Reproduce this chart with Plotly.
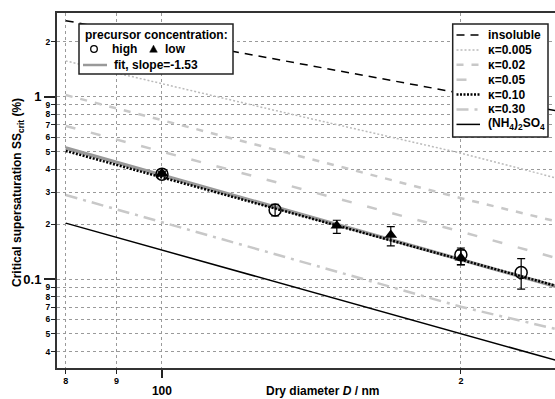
import plotly.graph_objects as go

# ---------------- data ----------------
insoluble_D = [80, 250]
insoluble_SS = [2.61, 0.835]
k0005_D = [80, 131.5, 200, 250]
k0005_SS = [1.57, 0.828, 0.49, 0.357]
k002_D = [80, 200, 250]
k002_SS = [1.02, 0.2775, 0.2065]
k005_D = [80, 200, 250]
k005_SS = [0.691, 0.182, 0.130]
k010_D = [80, 250]
k010_SS = [0.504, 0.0914]
k030_D = [80, 200, 250]
k030_SS = [0.289, 0.0705, 0.053]
amsulf_D = [80, 200, 250]
amsulf_SS = [0.2025, 0.0505, 0.0357]
fit_D = [80, 250]
fit_SS = [0.523, 0.0907]

high_D = [100, 130, 200, 230]
high_SS = [0.376, 0.239, 0.136, 0.1085]
high_err_plus = [0.010, 0.018, 0.012, 0.021]
high_err_minus = [0.010, 0.017, 0.016, 0.0205]

low_D = [100, 150, 170, 200]
low_SS = [0.380, 0.196, 0.1746, 0.131]
low_err_plus = [0.010, 0.014, 0.019, 0.013]
low_err_minus = [0.010, 0.018, 0.0226, 0.0115]

x_minor_vals = [80, 90, 200]
x_minor_text = ["8", "9", "2"]
x_major_vals = [100]
x_major_text = ["100"]
y_minor_vals = [0.04, 0.05, 0.06, 0.07, 0.08, 0.09, 0.2, 0.3, 0.4, 0.5,
                0.6, 0.7, 0.8, 0.9, 2]
y_minor_text = ["4", "5", "6", "7", "8", "9", "2", "3", "4", "5",
                "6", "7", "8", "9", "2"]
y_major_vals = [0.1, 1]
y_major_text = ["0.1", "1"]

legend_labels = ["insoluble", "κ=0.005", "κ=0.02", "κ=0.05", "κ=0.10",
                 "κ=0.30", "(NH<sub>4</sub>)<sub>2</sub>SO<sub>4</sub>"]

# ---------------- geometry ----------------
W, H = 555, 399
ML, MR, MT, MB = 57, 0, 13, 31
PW, PH = W - ML - MR, H - MT - MB
XR = [1.8943, 2.3958]
YR = [-1.4877, 0.4586]
FONT = "Liberation Sans, Arial, sans-serif"
LG = "#c8c8c8"


def px(x):
    return (x - ML) / PW


def py(y):
    return (H - MB - y) / PH


styles = [
    (insoluble_D, insoluble_SS, dict(color="black", width=1.5, dash="8px,6px")),
    (k0005_D, k0005_SS, dict(color="#bbbbbb", width=1.5, dash="2px,2px")),
    (k002_D, k002_SS, dict(color=LG, width=2.5, dash="7px,8px")),
    (k005_D, k005_SS, dict(color=LG, width=2.5, dash="10px,16px")),
    (k010_D, k010_SS, dict(color="black", width=2.5, dash="2px,1.5px")),
    (k030_D, k030_SS, dict(color=LG, width=2.5, dash="12px,6px,3px,6px")),
    (amsulf_D, amsulf_SS, dict(color="black", width=1.5)),
]

fig = go.Figure()
fig.add_trace(go.Scatter(x=fit_D, y=fit_SS, mode="lines",
                         line=dict(color="#999999", width=3.5), showlegend=False))
for (d, s, ln), name in zip(styles, legend_labels):
    on_overlay = name.startswith("(NH")
    fig.add_trace(go.Scatter(x=d, y=s, mode="lines", line=ln, name=name,
                             showlegend=False,
                             xaxis="x2" if on_overlay else "x",
                             yaxis="y2" if on_overlay else "y"))

fig.add_trace(go.Scatter(
    x=high_D, y=high_SS, mode="markers", showlegend=False,
    marker=dict(symbol="circle-open", size=12, color="black", line=dict(width=1.5)),
    error_y=dict(type="data", symmetric=False, array=high_err_plus,
                 arrayminus=high_err_minus, color="black", thickness=1.2, width=4)))
fig.add_trace(go.Scatter(
    x=low_D, y=low_SS, mode="markers", showlegend=False,
    marker=dict(symbol="triangle-up", size=11, color="black"),
    error_y=dict(type="data", symmetric=False, array=low_err_plus,
                 arrayminus=low_err_minus, color="black", thickness=1.2, width=4)))

shapes = []
annos = []
LF = dict(family=FONT, size=12, color="black", weight="bold")
# left legend box
shapes.append(dict(type="rect", xref="paper", yref="paper", x0=px(79), x1=px(233),
                   y0=py(74), y1=py(24), fillcolor="white",
                   line=dict(color="#222", width=1.5), layer="above"))
annos.append(dict(x=px(156.5), y=py(35), xref="paper", yref="paper",
                  text="precursor concentration:", showarrow=False,
                  xanchor="center", yanchor="middle", font=LF))
cx, cy, r = 94, 49, 3.3
shapes.append(dict(type="circle", xref="paper", yref="paper", x0=px(cx - r), x1=px(cx + r),
                   y0=py(cy + r), y1=py(cy - r), line=dict(color="black", width=1.3),
                   layer="above"))
annos.append(dict(x=px(110), y=py(49.5), xref="paper", yref="paper", text="high",
                  showarrow=False, xanchor="left", yanchor="middle", font=LF))
tx, ty = 153.5, 49
shapes.append(dict(type="path", xref="paper", yref="paper",
                   path=f"M {px(tx-3.8)} {py(ty+3.2)} L {px(tx+3.8)} {py(ty+3.2)} L {px(tx)} {py(ty-3.8)} Z",
                   fillcolor="black", line=dict(color="black", width=0.5), layer="above"))
annos.append(dict(x=px(163), y=py(49.5), xref="paper", yref="paper", text="low",
                  showarrow=False, xanchor="left", yanchor="middle", font=LF))
shapes.append(dict(type="line", xref="paper", yref="paper", x0=px(83), x1=px(107),
                   y0=py(65), y1=py(65), line=dict(color="#999999", width=2.5), layer="above"))
annos.append(dict(x=px(112), y=py(65), xref="paper", yref="paper", text="fit, slope=-1.53",
                  showarrow=False, xanchor="left", yanchor="middle", font=LF))

# right legend box
shapes.append(dict(type="rect", xref="paper", yref="paper", x0=px(452.7), x1=px(548),
                   y0=py(137), y1=py(24), fillcolor="white",
                   line=dict(color="#222", width=1.5), layer="above"))
for i, ((d, s, ln), name) in enumerate(zip(styles, legend_labels)):
    yy = 35 + i * 14.9
    shapes.append(dict(type="line", xref="paper", yref="paper", x0=px(456.5), x1=px(480),
                       y0=py(yy), y1=py(yy), line=ln, layer="above"))
    annos.append(dict(x=px(485.5), y=py(yy), xref="paper", yref="paper", text=name,
                      showarrow=False, xanchor="left", yanchor="middle", font=LF))

# axis titles
annos.append(dict(x=px(322.5), y=py(391), xref="paper", yref="paper",
                  text="Dry diameter <i>D</i> / nm", showarrow=False,
                  xanchor="center", yanchor="middle", font=LF))
annos.append(dict(x=px(18), y=py(193), xref="paper", yref="paper",
                  text="Critical supersaturation SS<sub>crit</sub> (%)", showarrow=False,
                  textangle=-90, xanchor="center", yanchor="middle", font=LF))

GRIDC = "#9a9a9a"

fig.update_layout(
    width=W, height=H,
    margin=dict(l=ML, r=MR, t=MT, b=MB, pad=0, autoexpand=False),
    paper_bgcolor="white", plot_bgcolor="white",
    showlegend=False,
    shapes=shapes, annotations=annos,
    xaxis=dict(type="log", range=XR, tickmode="array", tickvals=x_major_vals,
               ticktext=x_major_text, ticks="outside", ticklen=8, tickwidth=1.5,
               tickcolor="#222", showline=True, linecolor="#333", linewidth=2,
               mirror=True, zeroline=False, ticklabelstandoff=3,
               showgrid=True, gridcolor=GRIDC, griddash="dot", gridwidth=1,
               minor=dict(tickmode="array", tickvals=x_minor_vals, ticks="outside",
                          ticklen=4, tickwidth=1, tickcolor="#222", showgrid=True,
                          gridcolor=GRIDC, griddash="dot", gridwidth=1),
               tickfont=dict(family=FONT, size=12, color="black", weight="bold")),
    xaxis2=dict(type="log", range=XR, overlaying="x", anchor="y", side="bottom",
                tickmode="array", tickvals=x_minor_vals, ticktext=x_minor_text,
                ticks="outside", ticklen=4, tickwidth=1, tickcolor="#222",
                showline=False, showgrid=False, zeroline=False,
                tickfont=dict(family=FONT, size=9, color="black", weight="bold")),
    yaxis=dict(type="log", range=YR, tickmode="array", tickvals=y_major_vals,
               ticktext=y_major_text, ticks="outside", ticklen=11, tickwidth=1.5,
               tickcolor="#222", showline=True, linecolor="#333", linewidth=2,
               mirror=False, zeroline=False,
               showgrid=True, gridcolor=GRIDC, griddash="dot", gridwidth=1,
               minor=dict(tickmode="array", tickvals=y_minor_vals, ticks="outside",
                          ticklen=4, tickwidth=1, tickcolor="#222", showgrid=True,
                          gridcolor=GRIDC, griddash="dot", gridwidth=1),
               tickfont=dict(family=FONT, size=13, color="black", weight="bold")),
    yaxis2=dict(type="log", range=YR, overlaying="y", anchor="x", side="left",
                tickmode="array", tickvals=y_minor_vals, ticktext=y_minor_text,
                ticks="outside", ticklen=4, tickwidth=1, tickcolor="#222",
                showline=False, showgrid=False, zeroline=False,
                tickfont=dict(family=FONT, size=8.5, color="black", weight="bold")),
)

fig.write_html("out.html", config={"displayModeBar": False},
               post_script="document.body.style.margin='0';document.body.style.overflow='hidden';")
